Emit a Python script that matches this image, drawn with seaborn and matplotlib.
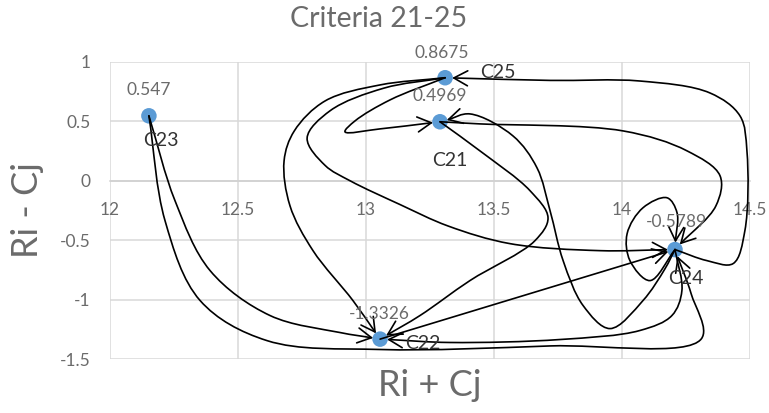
import numpy as np
import pandas as pd
import matplotlib
matplotlib.use("Agg")
import matplotlib.pyplot as plt
from matplotlib.path import Path
from matplotlib.patches import FancyArrowPatch
import seaborn as sns

# ---- data -------------------------------------------------------------
criteria = ["C21", "C22", "C23", "C24", "C25"]
r_plus_c = [13.289, 13.055, 12.152, 14.207, 13.309]
r_minus_c = [0.4969, -1.3326, 0.547, -0.5789, 0.8675]

x_ticks = [12, 12.5, 13, 13.5, 14, 14.5]
x_tick_labels = ["12", "12.5", "13", "13.5", "14", "14.5"]
y_ticks = [-1.5, -1, -0.5, 0, 0.5, 1]
y_tick_labels = ["-1.5", "-1", "-0.5", "0", "0.5", "1"]

# cause -> effect relations between criteria
links = [
    ("C23", "C22"), ("C23", "C24"),
    ("C25", "C22"), ("C25", "C24"), ("C25", "C21"),
    ("C21", "C22"), ("C21", "C24"),
    ("C24", "C21"), ("C24", "C25"), ("C24", "C22"), ("C24", "C24"),
    ("C22", "C24"),
]

# ---- connector routing (bend points for each curved arrow) -----------
routes = {
    ("C23", "C22"): [(12.254, -0.168), (12.391, -0.756), (12.625, -1.134), (12.898, -1.277)],
    ("C23", "C24"): [(12.215, -0.336), (12.352, -1.008), (12.613, -1.345), (13.055, -1.42),
                     (13.719, -1.39), (14.31, -1.33), (14.27, -0.95)],
    ("C25", "C22"): [(13.055, 0.807), (12.84, 0.672), (12.72, 0.42), (12.68, 0.168), (12.703, -0.21),
                     (12.793, -0.588), (12.949, -1.008)],
    ("C25", "C24"): [(13.07, 0.78), (12.86, 0.59), (12.77, 0.36), (12.84, 0.13), (12.938, 0.0),
                     (13.133, -0.2), (13.32, -0.38), (13.5625, -0.529), (13.914, -0.588)],
    ("C25", "C21"): [(13.094, 0.681), (12.957, 0.504), (12.918, 0.412), (13.055, 0.437)],
    ("C21", "C22"): [(13.445, 0.252), (13.641, -0.084), (13.711, -0.311), (13.66, -0.504),
                     (13.406, -0.84), (13.211, -1.134)],
    ("C21", "C24"): [(13.445, 0.479), (14.004, 0.42), (14.254, 0.252), (14.383, 0.042), (14.367, -0.21)],
    ("C24", "C21"): [(14.168, -0.74), (14.082, -1.008), (13.953, -1.244), (13.848, -1.05), (13.77, -0.672),
                     (13.719, -0.252), (13.668, 0.109), (13.574, 0.378), (13.406, 0.563)],
    ("C24", "C25"): [(14.332, -0.672), (14.434, -0.697), (14.48, -0.42), (14.488, 0.252), (14.461, 0.546),
                     (14.344, 0.739), (14.07, 0.84), (13.72, 0.845)],
    ("C24", "C22"): [(14.234, -0.924), (14.195, -1.134), (14.07, -1.26), (13.758, -1.336), (13.328, -1.361)],
    ("C24", "C24"): [(14.109, -0.84), (14.031, -0.672), (14.02, -0.445), (14.082, -0.227), (14.176, -0.143),
                     (14.215, -0.269)],
    ("C22", "C24"): [],
}

# label placement in pixels relative to each marker
value_offsets = {"C21": (0, 26), "C22": (-1, 25), "C23": (0, 26), "C24": (1, 28), "C25": (-3, 25)}
name_offsets = {"C21": (10, -39), "C22": (43, -4), "C23": (12, -25), "C24": (11, -29), "C25": (53, 5)}

# ---- figure -----------------------------------------------------------
sns.set_theme(style="white")
plt.rcParams["font.family"] = ["Lato", "DejaVu Sans"]

W, H = 769, 413
fig = plt.figure(figsize=(W / 100, H / 100), dpi=100)
ax = fig.add_axes([110 / W, 1 - 359 / H, 640 / W, 297 / H])

df = pd.DataFrame({"criterion": criteria, "x": r_plus_c, "y": r_minus_c})
sns.scatterplot(data=df, x="x", y="y", ax=ax, s=125, color="#5b9bd5",
                edgecolor="none", zorder=3, legend=False)

ax.set_xlim(12, 14.5)
ax.set_ylim(-1.5, 1)
ax.set_xticks(x_ticks, x_tick_labels)
ax.set_yticks(y_ticks, y_tick_labels)
ax.grid(True, color="#d9d9d9", lw=1.1)
ax.set_axisbelow(True)
for side in ("top", "right", "left"):
    ax.spines[side].set_visible(False)
ax.spines["bottom"].set_position(("data", 0))
ax.spines["bottom"].set_color("#d0d0d0")
ax.spines["bottom"].set_linewidth(1.1)
ax.tick_params(axis="x", length=0, pad=15, labelsize=12.5, labelcolor="#6b6b6b")
ax.tick_params(axis="y", length=0, pad=14, labelsize=12.5, labelcolor="#6b6b6b")
ax.set_xlabel("")
ax.set_ylabel("")

pos = {c: (x, y) for c, x, y in zip(criteria, r_plus_c, r_minus_c)}


def connector(src, dst, via, end_gap=7.0, alpha=0.5):
    """Centripetal Catmull-Rom curve through the bend points, built in screen space."""
    T = ax.transData
    P = T.transform(np.array([pos[src]] + list(via) + [pos[dst]]))
    d = P[-2] - P[-1]
    P[-1] = P[-1] + d / np.linalg.norm(d) * end_gap
    ext = np.vstack([2 * P[0] - P[1], P, 2 * P[-1] - P[-2]])
    verts = [P[0]]
    codes = [Path.MOVETO]
    for i in range(1, len(ext) - 2):
        p0, p1, p2, p3 = ext[i - 1], ext[i], ext[i + 1], ext[i + 2]
        d01 = max(np.linalg.norm(p1 - p0) ** alpha, 1e-6)
        d12 = max(np.linalg.norm(p2 - p1) ** alpha, 1e-6)
        d23 = max(np.linalg.norm(p3 - p2) ** alpha, 1e-6)
        m1 = ((p1 - p0) / d01 - (p2 - p0) / (d01 + d12) + (p2 - p1) / d12) * d12
        m2 = ((p2 - p1) / d12 - (p3 - p1) / (d12 + d23) + (p3 - p2) / d23) * d12
        verts += [p1 + m1 / 3, p2 - m2 / 3, p2]
        codes += [Path.CURVE4] * 3
    return Path(T.inverted().transform(np.array(verts)), codes)


for src, dst in links:
    path = connector(src, dst, routes[(src, dst)])
    arrow = FancyArrowPatch(path=path, arrowstyle="->,head_length=0.55,head_width=0.3",
                            mutation_scale=18, color="black", lw=1.2,
                            transform=ax.transData, zorder=4)
    ax.add_patch(arrow)

for c, x, y in zip(criteria, r_plus_c, r_minus_c):
    ax.annotate(f"{y:g}", (x, y), xytext=value_offsets[c], textcoords="offset pixels",
                ha="center", va="center", fontsize=12.5, color="#6b6b6b", zorder=5)
    ax.annotate(c, (x, y), xytext=name_offsets[c], textcoords="offset pixels",
                ha="center", va="center", fontsize=14, color="#333333", zorder=5)

fig.text(379 / W, 1 - 19 / H, "Criteria 21-25", ha="center", va="center",
         fontsize=20.5, color="#6b6b6b")
fig.text(430 / W, 1 - 386 / H, "Ri + Cj", ha="center", va="center",
         fontsize=26, color="#6b6b6b")
fig.text(27 / W, 1 - 210 / H, "Ri - Cj", ha="center", va="center", rotation=90,
         fontsize=26, color="#6b6b6b")

fig.savefig("out.png", dpi=100)
